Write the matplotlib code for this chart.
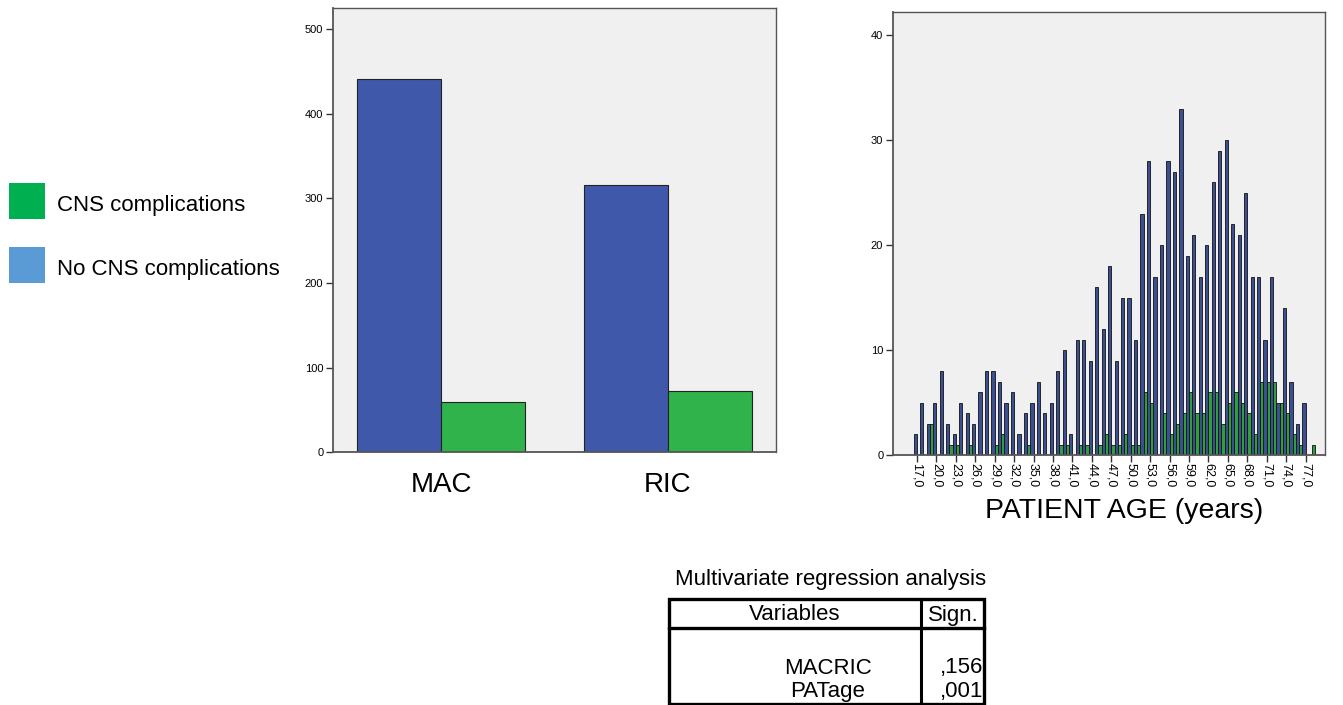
import numpy as np
import matplotlib.pyplot as plt
from matplotlib.patches import Rectangle

plt.rcParams['font.family'] = ['Liberation Sans', 'DejaVu Sans']

# === DATI ===
groups = ["MAC", "RIC"]
no_cns_group = [441, 316]
cns_group = [59, 73]

ages = list(range(17, 79))
no_cns_age = [2, 5, 3, 5, 8, 3, 2, 5, 4, 3, 6, 8, 8, 7, 5, 6, 2, 4, 5, 7,
              4, 5, 8, 10, 2, 11, 11, 9, 16, 12, 18, 9, 15, 15, 11, 23, 28, 17, 20, 28,
              27, 33, 19, 21, 17, 20, 26, 29, 30, 22, 21, 25, 17, 17, 11, 17, 5, 14, 7, 3,
              5, 0]
cns_age = [0, 0, 3, 0, 0, 1, 1, 0, 1, 0, 0, 0, 1, 2, 0, 0, 0, 1, 0, 0,
           0, 0, 1, 1, 0, 1, 1, 0, 1, 2, 1, 1, 2, 1, 1, 6, 5, 0, 4, 2,
           3, 4, 6, 4, 4, 6, 6, 3, 5, 6, 5, 4, 2, 7, 7, 7, 5, 4, 2, 1,
           0, 1]
age_ticks = list(range(17, 78, 3))

legend_labels = ["CNS complications", "No CNS complications"]
legend_colors = ["#00b050", "#5b9bd5"]

table_title = "Multivariate regression analysis"
table_header = ["Variables", "Sign."]
table_vars = ["MACRIC", "PATage"]
table_sign = [",156", ",001"]

# === COLORI ===
bg = "#f0f0f0"
blue_bar = "#3f58aa"
green_bar = "#2fb34a"
blue_hist = "#3b4f93"
green_hist = "#2e9e40"
spine_col = "#555555"

W, H = 1343, 705
fig = plt.figure(figsize=(W / 100, H / 100), dpi=100)


def px_axes(x0, y0, x1, y1):
    return fig.add_axes([x0 / W, 1 - y1 / H, (x1 - x0) / W, (y1 - y0) / H])


# === GRAFICO A BARRE (MAC/RIC) ===
ax1 = px_axes(333, 8, 776, 452.3)
ax1.set_facecolor(bg)
xg = np.arange(len(groups))
bw = 0.37
ax1.bar(xg - bw / 2, no_cns_group, bw, color=blue_bar, edgecolor="#222222", linewidth=0.8)
ax1.bar(xg + bw / 2, cns_group, bw, color=green_bar, edgecolor="#222222", linewidth=0.8)
ax1.set_xlim(-0.476, 1.476)
ax1.set_ylim(0, 525)
ax1.set_yticks([0, 100, 200, 300, 400, 500])
ax1.tick_params(axis="y", labelsize=8, length=5, width=1, color="#333333", pad=2)
ax1.set_xticks(xg)
ax1.set_xticklabels(groups, fontsize=20)
ax1.tick_params(axis="x", length=0, pad=14)

# === ISTOGRAMMA ETA' ===
ax2 = px_axes(893, 12, 1325, 455)
ax2.set_facecolor(bg)
xa = np.array(ages)
hw = 0.5
ax2.bar(xa - hw / 2, no_cns_age, hw, color=blue_hist, edgecolor="#111111", linewidth=0.6)
ax2.bar(xa + hw / 2, cns_age, hw, color=green_hist, edgecolor="#111111", linewidth=0.6)
ax2.set_xlim(13.3, 80.0)
ax2.set_ylim(0, 42.2)
ax2.set_yticks([0, 10, 20, 30, 40])
ax2.tick_params(axis="y", labelsize=8, length=5, width=1, color="#333333", pad=2)
ax2.set_xticks(age_ticks)
ax2.set_xticklabels([f"{a},0" for a in age_ticks], rotation=270, fontsize=9)
ax2.tick_params(axis="x", length=5, width=1, color="#333333", pad=1)
ax2.set_xlabel("PATIENT AGE (years)", fontsize=20.5, labelpad=5)
ax2.xaxis.set_label_coords(0.535, -0.097)

for ax in (ax1, ax2):
    for s in ax.spines.values():
        s.set_color(spine_col)
        s.set_linewidth(1.0)
    ax.spines["left"].set_linewidth(1.3)
    ax.spines["bottom"].set_linewidth(1.3)

# === LEGENDA ===
ov = fig.add_axes([0, 0, 1, 1])
ov.set_xlim(0, W)
ov.set_ylim(H, 0)
ov.axis("off")
for i, (lab, col) in enumerate(zip(legend_labels, legend_colors)):
    y0 = 183 + i * 64
    ov.add_patch(Rectangle((9, y0), 36, 36, facecolor=col, edgecolor="none"))
    ov.text(57, y0 + 22, lab, fontsize=16, va="center", ha="left")

# === TABELLA ===
ov.text(831, 579, table_title, fontsize=16, ha="center", va="center")
ov.add_patch(Rectangle((669, 599), 315, 105, facecolor="none", edgecolor="black", linewidth=2.4))
ov.plot([921, 921], [599, 704], color="black", linewidth=2.2)
ov.plot([669, 984], [628, 628], color="black", linewidth=2.4)
ov.text(795, 615, table_header[0], fontsize=16, ha="center", va="center")
ov.text(953, 615, table_header[1], fontsize=16, ha="center", va="center")
for i, (v, s) in enumerate(zip(table_vars, table_sign)):
    yy = 668 + i * 24
    ov.text(828, yy, v, fontsize=16, ha="center", va="center")
    ov.text(983, yy, s, fontsize=16, ha="right", va="center")

fig.savefig("out.png", dpi=100)
